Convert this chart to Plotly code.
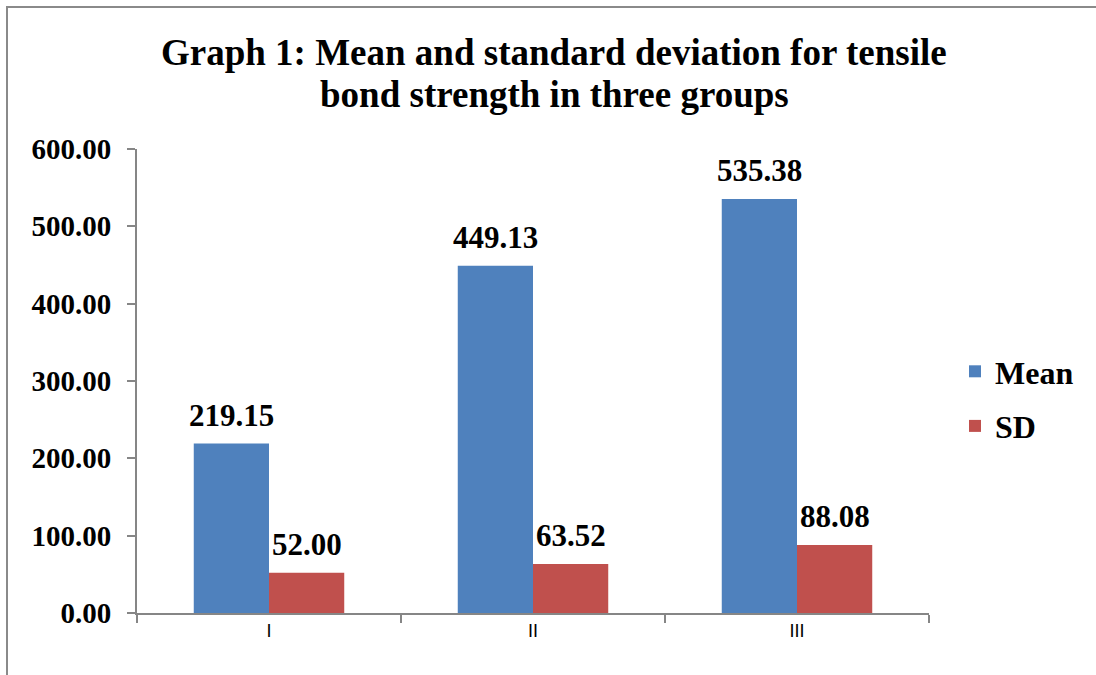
import plotly.graph_objects as go

# Tensile bond strength summary per group
groups = ["I", "II", "III"]
mean_vals = [219.15, 449.13, 535.38]
sd_vals = [52.00, 63.52, 88.08]
title_lines = ["Graph 1: Mean and standard deviation for tensile",
               "bond strength in three groups"]

serif = "Liberation Serif, Times New Roman, serif"
blue = "#4F81BD"
red = "#C0504D"
axis_grey = "#868686"

W, H = 1096, 675
ml, mr, mt, mb = 137, 167, 149, 62
pw, ph = W - ml - mr, H - mt - mb
bargap = 0.43
# half of one bar's width in pixels (two bars share each category slot)
half_bar = (pw / len(groups)) * (1 - bargap) / 4


def px_x(x):
    return (x - ml) / pw


def px_y(y):
    return (H - mb - y) / ph


fig = go.Figure()
fig.add_trace(go.Bar(
    name="Mean", x=groups, y=mean_vals, marker=dict(color=blue, line=dict(width=0)),
    legendgroup="mean",
))
fig.add_trace(go.Bar(
    name="SD", x=groups, y=sd_vals, marker=dict(color=red, line=dict(width=0)),
    legendgroup="sd",
))

# value labels above each bar
annotations = []
for vals, shift in ((mean_vals, -half_bar), (sd_vals, half_bar)):
    for g, v in zip(groups, vals):
        annotations.append(dict(
            x=g, y=v, xref="x", yref="y", text=f"{v:.2f}", showarrow=False,
            xanchor="center", yanchor="bottom", xshift=shift, yshift=9,
            font=dict(family=serif, size=31, color="black", weight="bold"),
        ))

# two-line chart title
for line, ypix in zip(title_lines, (52, 95)):
    annotations.append(dict(
        x=px_x(554), y=px_y(ypix), xref="paper", yref="paper",
        text=line, showarrow=False, xanchor="center", yanchor="middle",
        font=dict(family=serif, size=37, color="black", weight="bold"),
    ))

fig.update_layout(
    width=W, height=H,
    margin=dict(l=ml, r=mr, t=mt, b=mb),
    paper_bgcolor="white", plot_bgcolor="white",
    barmode="group", bargap=bargap, bargroupgap=0,
    font=dict(family=serif, color="black"),
    legend=dict(
        x=px_x(955), xanchor="left", y=px_y(399), yanchor="middle",
        font=dict(family=serif, size=32, color="black", weight="bold"),
        itemwidth=30, traceorder="grouped", tracegroupgap=10,
        bgcolor="rgba(0,0,0,0)",
    ),
    xaxis=dict(
        showline=True, linecolor=axis_grey, linewidth=2,
        ticks="outside", ticklen=8, tickcolor=axis_grey, tickwidth=2,
        tickson="boundaries", showgrid=False,
        tickfont=dict(family="Liberation Sans, Arial, sans-serif", size=18, color="black"),
    ),
    yaxis=dict(
        range=[0, 600], tickvals=[0, 100, 200, 300, 400, 500, 600],
        tickformat=".2f", showline=True, linecolor=axis_grey, linewidth=2,
        ticks="outside", ticklen=8, tickcolor=axis_grey, tickwidth=2,
        showgrid=False, zeroline=False,
        tickfont=dict(family=serif, size=29, color="black", weight="bold"),
        ticklabelstandoff=10,
    ),
    annotations=annotations,
    shapes=[dict(
        type="rect", xref="paper", yref="paper",
        x0=px_x(7), x1=px_x(1110), y0=px_y(690), y1=px_y(7),
        line=dict(color="#8a8a8a", width=2), fillcolor="rgba(0,0,0,0)", layer="below",
    )],
)

fig.write_html("out.html")
